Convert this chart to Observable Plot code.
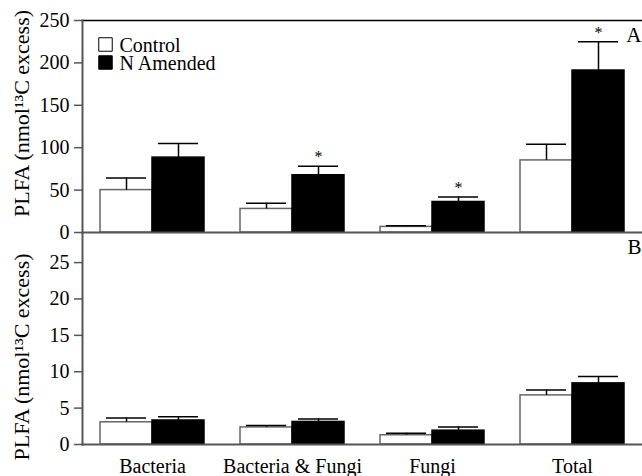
<!DOCTYPE html>
<html>
<head>
<meta charset="utf-8">
<script src="https://cdn.jsdelivr.net/npm/d3@7"></script>
<script src="https://cdn.jsdelivr.net/npm/@observablehq/plot@0.6"></script>
<style>
  html, body { margin: 0; padding: 0; background: white; }
  #chart svg { display: block; }
  #chart svg, #chart svg text { font-family: "Liberation Serif", "Times New Roman", serif !important; }
</style>
</head>
<body>
<div id="chart"></div>
<script>
// ---- data ----
const categories = ["Bacteria", "Bacteria & Fungi", "Fungi", "Total"];
const series = ["Control", "N Amended"];

// Panel A
const aControl = [50, 27.8, 6.6, 85];
const aControlErr = [14.3, 6.7, 1.4, 19];
const aAmended = [88.3, 67.5, 36, 191];
const aAmendedErr = [16.7, 10.5, 6, 34];
const aSignificant = [false, true, true, true];

// Panel B
const bControl = [3.05, 2.35, 1.27, 6.75];
const bControlErr = [0.6, 0.25, 0.28, 0.75];
const bAmended = [3.3, 3.1, 1.9, 8.4];
const bAmendedErr = [0.5, 0.4, 0.5, 0.95];

const yTicksA = [0, 50, 100, 150, 200, 250];
const yTicksB = [0, 5, 10, 15, 20, 25];
const yLabel = "PLFA (nmol\u00B9\u00B3C excess)";

// ---- styles ----
const seriesFill = ["white", "black"];
const seriesStroke = ["#666", "black"];
const font = "Liberation Serif, Times New Roman, serif";

function buildTable(ctrl, ctrlErr, amd, amdErr, sig) {
  const rows = [];
  categories.forEach((c, i) => {
    rows.push({cat: c, series: series[0], value: ctrl[i], err: ctrlErr[i], sig: false});
    rows.push({cat: c, series: series[1], value: amd[i], err: amdErr[i], sig: sig ? sig[i] : false});
  });
  return rows;
}

const tableA = buildTable(aControl, aControlErr, aAmended, aAmendedErr, aSignificant);
const tableB = buildTable(bControl, bControlErr, bAmended, bAmendedErr, null);

function dataMarks(table) {
  return [
    Plot.barY(table, {
      fx: "cat", x: "series", y: "value",
      fill: d => seriesFill[series.indexOf(d.series)],
      stroke: d => seriesStroke[series.indexOf(d.series)],
      strokeWidth: 1.5
    }),
    Plot.ruleX(table, {
      fx: "cat", x: "series", y1: "value", y2: d => d.value + d.err,
      stroke: "black", strokeWidth: 1.5
    }),
    Plot.tickY(table, {
      fx: "cat", x: "series", y: d => d.value + d.err,
      insetLeft: 6, insetRight: 6, stroke: "black", strokeWidth: 1.5
    })
  ];
}

const common = {
  width: 642,
  marginLeft: 82,
  marginRight: 0,
  style: {fontFamily: font, fontSize: "20px", color: "black", background: "white", overflow: "visible"},
  x: {domain: series, paddingInner: 0, paddingOuter: 0.328, axis: null},
  color: {type: "identity"}
};

const fxScale = {domain: categories, padding: 0, label: null};

const plotA = Plot.plot({
  ...common,
  height: 233,
  marginTop: 20,
  marginBottom: 1,
  fx: {...fxScale, axis: null},
  y: {domain: [0, 250], axis: null},
  marks: [
    ...dataMarks(tableA),
    Plot.text(tableA.filter(d => d.sig), {
      fx: "cat", x: "series", y: d => d.value + d.err,
      text: () => "*", fontSize: 16, dy: -9, lineAnchor: "middle", fontFamily: font
    }),
    Plot.axisY({ticks: yTicksA, tickSize: 8, tickPadding: 5, stroke: "#555", strokeWidth: 1.5, fill: "black", fontSize: 20, fontFamily: font, label: null}),
    Plot.frame({anchor: "top", facet: "super", stroke: "black", strokeWidth: 1.5}),
    Plot.frame({anchor: "bottom", facet: "super", stroke: "#555", strokeWidth: 2}),
    Plot.frame({anchor: "left", facet: "super", stroke: "#555", strokeWidth: 2}),
    Plot.text([yLabel], {facet: "super", frameAnchor: "left", rotate: -90, dx: -61, dy: -13, fontSize: 22,
      textAnchor: "middle", lineAnchor: "middle", fontFamily: font}),
    Plot.text(["A"], {facet: "super", frameAnchor: "top-right", dx: -1, dy: 15, textAnchor: "end", lineAnchor: "middle", fontSize: 21, fontFamily: font}),
    ...series.flatMap((s, i) => [
      Plot.dot([s], {facet: "super", frameAnchor: "top-left", dx: 23, dy: 24 + 18 * i, symbol: "square", r: 7.6,
        fill: seriesFill[i], stroke: "black", strokeWidth: 1}),
      Plot.text([s], {facet: "super", frameAnchor: "top-left", dx: 37, dy: 25 + 18 * i, text: d => d,
        textAnchor: "start", lineAnchor: "middle", fontSize: 20, fontFamily: font})
    ])
  ]
});

const plotB = Plot.plot({
  ...common,
  height: 243,
  marginTop: 0,
  marginBottom: 32,
  fx: fxScale,
  y: {domain: [0, 29], axis: null},
  marks: [
    ...dataMarks(tableB),
    Plot.axisY({ticks: yTicksB, tickSize: 8, tickPadding: 5, stroke: "#555", strokeWidth: 1.5, fill: "black", fontSize: 20, fontFamily: font, label: null}),
    Plot.axisFx({anchor: "bottom", tickSize: 0, tickPadding: 14, fontSize: 20, fontFamily: font, label: null, fill: "black"}),
    Plot.frame({anchor: "bottom", facet: "super", stroke: "#555", strokeWidth: 2}),
    Plot.frame({anchor: "left", facet: "super", stroke: "#555", strokeWidth: 2}),
    Plot.text([yLabel], {facet: "super", frameAnchor: "left", rotate: -90, dx: -61, dy: 18, fontSize: 22,
      textAnchor: "middle", lineAnchor: "middle", fontFamily: font}),
    Plot.text(["B"], {facet: "super", frameAnchor: "top-right", dx: -1, dy: 14, textAnchor: "end", lineAnchor: "middle", fontSize: 21, fontFamily: font})
  ]
});

const chart = document.getElementById("chart");
chart.appendChild(plotA);
chart.appendChild(plotB);
</script>
</body>
</html>
